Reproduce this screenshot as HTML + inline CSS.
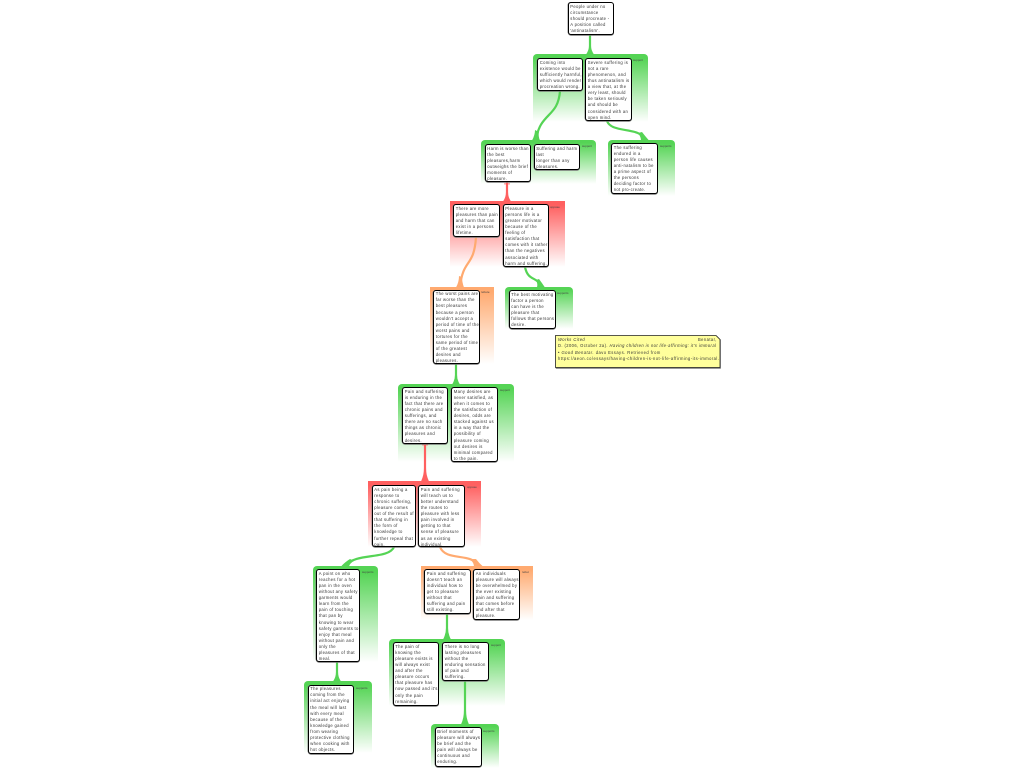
<!DOCTYPE html>
<html><head><meta charset="utf-8"><style>
html,body{margin:0;padding:0;background:#fff;width:1024px;height:768px;overflow:hidden;font-family:"Liberation Sans",sans-serif}
.g,.n,.t,svg,.note{position:absolute}
.g{border-radius:4px 4px 0 0}
.gr{background:linear-gradient(#55d455 0,#55d455 6%,#fff 100%)}
.r{background:linear-gradient(#ff6060 0,#ff6060 6%,#fff 100%);border-radius:0}
.o{background:linear-gradient(#ffaa70 0,#ffaa70 6%,#fff 100%);border-radius:0}
.n{box-sizing:border-box;background:#fff;border:1px solid #000;border-radius:3px;box-shadow:0 .7px 0 #777,-.5px 0 0 #888;font-size:4.2px;line-height:6.1px;letter-spacing:.3px;color:#333;padding:.8px 0 0 1.8px;white-space:nowrap}
.t{font-size:3px;line-height:4px;color:#444;white-space:nowrap}
.note{left:555px;top:335px;width:165px;height:33px;font-size:4.1px;line-height:6.2px;letter-spacing:.44px;color:#333;white-space:nowrap}
.note div{position:absolute;left:3px;white-space:nowrap}
</style></head><body>

<div class="g gr" style="left:533px;top:54px;width:115px;height:68px"></div>
<div class="g gr" style="left:481px;top:140px;width:115px;height:44px"></div>
<div class="g gr" style="left:608px;top:140px;width:67px;height:56px"></div>
<div class="g r" style="left:450px;top:201px;width:115px;height:66px"></div>
<div class="g o" style="left:430px;top:287px;width:64px;height:77px"></div>
<div class="g gr" style="left:505px;top:287px;width:68px;height:42px"></div>
<div class="g gr" style="left:398px;top:384px;width:116px;height:78px"></div>
<div class="g r" style="left:368px;top:481px;width:113px;height:66px"></div>
<div class="g gr" style="left:313px;top:566px;width:65px;height:96px"></div>
<div class="g o" style="left:421px;top:566px;width:112px;height:54px"></div>
<div class="g gr" style="left:389px;top:639px;width:116px;height:67px"></div>
<div class="g gr" style="left:304px;top:681px;width:68px;height:72px"></div>
<div class="g gr" style="left:431px;top:724px;width:68px;height:44px"></div>

<svg width="1024" height="768" style="left:0;top:0" fill="none" stroke-linecap="butt">
<g stroke="#55d455" stroke-width="2.2">
<path d="M590 35V54"/>
<path d="M560 91C558 118 540 112 536 140"/>
<path d="M607 121C612 134 640 126 645 140"/>
<path d="M525 267C528 282 538 276 541 287"/>
<path d="M456 364V384"/>
<path d="M394 547C388 560 356 552 345 566"/>
<path d="M447 614V639"/>
<path d="M337 662V681"/>
<path d="M465 681V724"/>
</g>
<g stroke="#ff6060" stroke-width="2.2"><path d="M507 182V201"/><path d="M425 443V481"/></g>
<g stroke="#ffaa70" stroke-width="2.2"><path d="M476 237C474 268 463 258 460 287"/><path d="M440 547C446 562 472 552 478 566"/></g>
<g fill="#55d455">
<path d="M586 54.500Q589 50 589 46H591Q591 50 594 54.500Z"/>
<path d="M532 140.500Q535 135 535 130L539 132Q538 136 540 140.500Z"/>
<path d="M641 140.500Q641 137 638 133L642 132Q645 136 649 140.500Z"/>
<path d="M537 287.500Q538 284 536 280L539 279Q542 283 545 287.500Z"/>
<path d="M452 384.500Q455 380 455 375H457Q457 380 460 384.500Z"/>
<path d="M341 566.500Q345 562 350 559L354 561Q350 563 349 566.500Z"/>
<path d="M443 639.500Q446 634 446 628H448Q448 634 451 639.500Z"/>
<path d="M333 681.500Q336 677 336 672H338Q338 677 341 681.500Z"/>
<path d="M461 724.500Q464 718 464 710H466Q466 718 469 724.500Z"/>
</g>
<g fill="#ff6060">
<path d="M503 201.500Q506 197 506 192H508Q508 197 511 201.500Z"/>
<path d="M421 481.500Q424 475 424 468H426Q426 475 429 481.500Z"/>
<path d="M504 183.500H510V184.300H504Z"/><path d="M422 444.500H428V445.300H422Z"/>
</g>
<g fill="#ffaa70">
<path d="M456 287.500Q459 282 459 276L462 277Q462 282 464 287.500Z"/>
<path d="M474 566.500Q474 563 470 559L476 559Q479 563 483 566.500Z"/>
</g>
</svg>

<div class="t" style="left:633px;top:58px">support</div>
<div class="t" style="left:582px;top:144px">support</div>
<div class="t" style="left:660px;top:144px">supports</div>
<div class="t" style="left:550px;top:205px">oppose</div>
<div class="t" style="left:481px;top:290px">rebute</div>
<div class="t" style="left:557px;top:291px">supports</div>
<div class="t" style="left:500px;top:388px">support</div>
<div class="t" style="left:467px;top:485px">oppose</div>
<div class="t" style="left:362px;top:570px">supports</div>
<div class="t" style="left:522px;top:570px">rebut</div>
<div class="t" style="left:491px;top:643px">support</div>
<div class="t" style="left:356px;top:686px">supports</div>
<div class="t" style="left:483px;top:729px">supports</div>

<div class="n" style="left:567.500px;top:2px;width:46.500px;height:33px">People under no<br>circumstance<br>should procreate -<br>A position called<br>'antinatalism'.</div>
<div class="n" style="left:537px;top:58px;width:46px;height:33px">Coming into<br>existence would be<br>sufficiently harmful,<br>which would render<br>procreation wrong.</div>
<div class="n" style="left:585px;top:58px;width:47px;height:63px">Severe suffering is<br>not a rare<br>phenomenon, and<br>thus antinatalism is<br>a view that, at the<br>very least, should<br>be taken seriously<br>and should be<br>considered with an<br>open mind.</div>
<div class="n" style="left:484.500px;top:144px;width:46.500px;height:38px">Harm is worse than<br>the best<br>pleasures,harm<br>outweighs the brief<br>moments of<br>pleasure.</div>
<div class="n" style="left:533.500px;top:144px;width:46.500px;height:26px">Suffering and harm<br>last<br>longer than any<br>pleasures.</div>
<div class="n" style="left:611px;top:143px;width:47px;height:51px">The suffering<br>endured in a<br>person life causes<br>anti-natalism to  be<br>a prime aspect of<br>the persons<br>deciding factor to<br>not pro-create.</div>
<div class="n" style="left:453px;top:204px;width:47px;height:33px">There are more<br>pleasures than pain<br>and harm that can<br>exist in a persons<br>lifetime.</div>
<div class="n" style="left:502.500px;top:204px;width:46.500px;height:63px">Pleasure in a<br>persons life is a<br>greater motivator<br>because of the<br>feeling of<br>satisfaction that<br>comes with it rather<br>than the negatives<br>associated with<br>harm and suffering.</div>
<div class="n" style="left:433px;top:289.500px;width:46.500px;height:74.500px">The worst pains are<br>far worse than the<br>best pleasures<br>because a person<br>wouldn't accept a<br>period of time of the<br>worst pains and<br>tortures for the<br>same period of time<br>of the greatest<br>desires and<br>pleasures.</div>
<div class="n" style="left:508.500px;top:290px;width:47px;height:38.500px">The best motivating<br>factor a person<br>can have is the<br>pleasure that<br>follows that persons<br>desire.</div>
<div class="n" style="left:402px;top:387px;width:46px;height:57px">Pain and suffering<br>is enduring in the<br>fact that there are<br>chronic pains and<br>sufferings, and<br>there are no such<br>things as chronic<br>pleasures and<br>desires.</div>
<div class="n" style="left:451px;top:387px;width:46.500px;height:75px">Many desires are<br>never satisfied, as<br>when it comes to<br>the satisfaction of<br>desires, odds are<br>stacked against us<br>in a way that the<br>possibility of<br>pleasure coming<br>out desires is<br>minimal compared<br>to the pain.</div>
<div class="n" style="left:371.500px;top:485px;width:44.500px;height:62px">As pain being a<br>response to<br>chronic suffering,<br>pleasure comes<br>out of the result of<br>that suffering in<br>the form of<br>knowledge to<br>further repeal that<br>pain.</div>
<div class="n" style="left:418px;top:485px;width:47px;height:62px">Pain and suffering<br>will teach us to<br>better understand<br>the routes to<br>pleasure with less<br>pain involved in<br>getting to that<br>sense of pleasure<br>as an existing<br>individual.</div>
<div class="n" style="left:316px;top:569px;width:44px;height:93px">A point on who<br>reaches for a hot<br>pan in the oven<br>without any safety<br>garments would<br>learn from the<br>pain of touching<br>that pan by<br>knowing to wear<br>safety garments to<br>enjoy that meal<br>without pain and<br>only the<br>pleasures of that<br>meal.</div>
<div class="n" style="left:424px;top:569px;width:47px;height:45px">Pain and suffering<br>doesn't teach an<br>individual how to<br>get to pleasure<br>without that<br>suffering and pain<br>still existing.</div>
<div class="n" style="left:473px;top:569px;width:47px;height:51px">An individuals<br>pleasure will always<br>be overwhelmed by<br>the ever existing<br>pain and suffering<br>that comes before<br>and after that<br>pleasure.</div>
<div class="n" style="left:392.500px;top:642px;width:46.500px;height:64px">The pain of<br>knowing the<br>pleasure exists is<br>will always exist<br>and after the<br>pleasure occurs<br>that pleasure has<br>now passed and it's<br>only the pain<br>remaining.</div>
<div class="n" style="left:442px;top:642px;width:46.500px;height:39px">There is no long<br>lasting pleasures<br>without the<br>enduring sensation<br>of pain and<br>suffering.</div>
<div class="n" style="left:307.500px;top:684.500px;width:46.500px;height:69px">The pleasures<br>coming from the<br>initial act enjoying<br>the meal will last<br>with every meal<br>because of the<br>knowledge gained<br>from wearing<br>protective clothing<br>when cooking with<br>hot objects.</div>
<div class="n" style="left:434.500px;top:727px;width:47px;height:40px">Brief moments of<br>pleasure will always<br>be brief and the<br>pain will always be<br>continuous and<br>enduring.</div>

<svg width="1024" height="768" style="left:0;top:0;pointer-events:none">
<path d="M555 335H716L720 339V368H555Z" fill="#777" transform="translate(.8 .8)"/>
<path d="M555.500 335.500H716L720 339.500V367.500H555.500Z" fill="#ffff9c" stroke="#222" stroke-width=".8"/>
</svg>
<div class="note">
<div style="top:2px;font-style:italic">Works Cited</div>
<div style="top:2px;left:143px">Benatar,</div>
<div style="top:8px;letter-spacing:.42px">D. (2006, October 2a). <i>Having children is not life-affirming: it's immoral</i></div>
<div style="top:14.500px;letter-spacing:.47px">• <i>Good Benatar.</i> davo Essays. Retrieved from</div>
<div style="top:20.500px;letter-spacing:.47px">https://aeon.co/essays/having-children-is-not-life-affirming-its-immoral.</div>
</div>
</body></html>
